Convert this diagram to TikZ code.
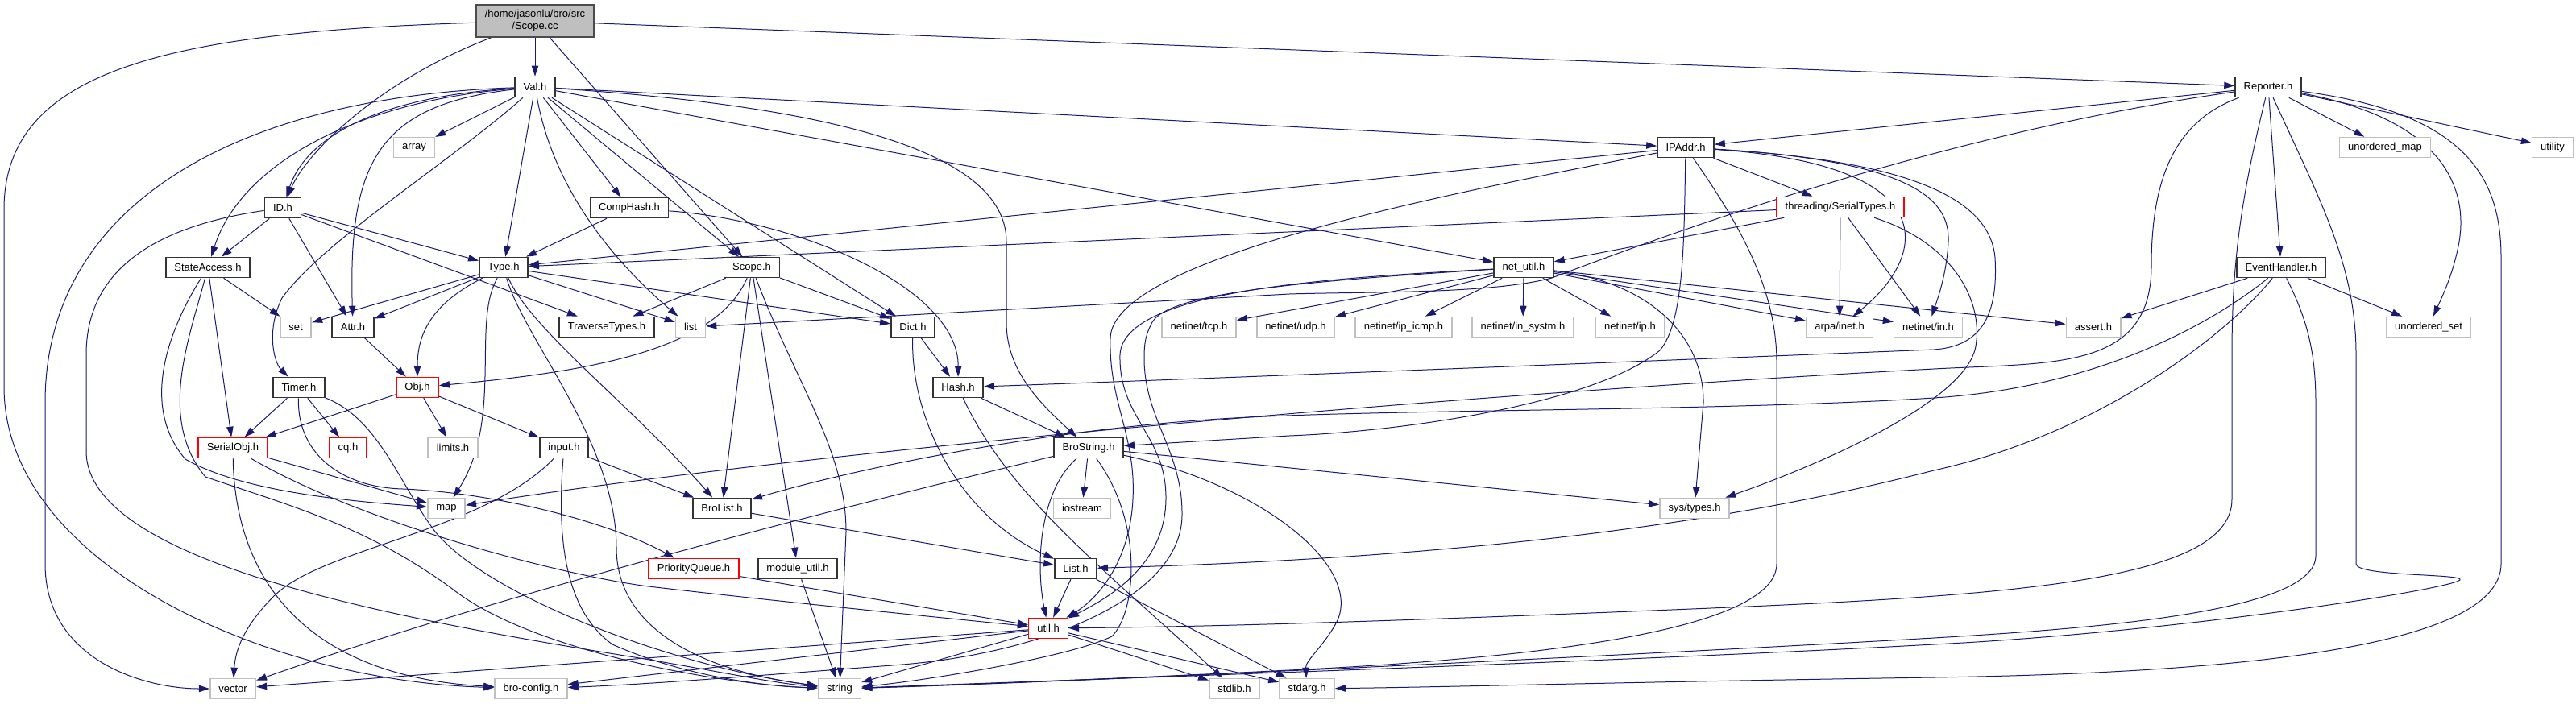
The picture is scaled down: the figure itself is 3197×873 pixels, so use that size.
\documentclass[tikz,border=0pt]{standalone}
\usepackage{fontspec}
\setmainfont{Liberation Sans}
\usetikzlibrary{arrows.meta}
\definecolor{edgeblue}{HTML}{191970}
\definecolor{sysgray}{HTML}{BFBFBF}
\pgfdeclarelayer{edges}
\pgfsetlayers{edges,main}
\begin{document}
\begin{tikzpicture}[x=0.5pt, y=-0.5pt, >={Triangle[length=6.5pt,width=4.2pt]},
    every node/.style={font=\fontsize{6.5}{7.5}\selectfont},
    hdr/.style={draw, rectangle, fill=white, line width=0.8pt, inner xsep=5.3pt, inner ysep=0pt, minimum height=12.5pt},
    doc/.style={hdr, draw=black!80},
    sys/.style={hdr, draw=sysgray},
    trunc/.style={hdr, draw=red},
    root/.style={hdr, fill=sysgray, draw=black!70, align=center, minimum height=20pt},
    dep/.style={->, color=edgeblue, line width=0.5pt}]
  \useasboundingbox (0,0) rectangle (3197,873);

  % ==================== nodes ====================
  % 1. root and first level
  \node[root] (scc) at (664,26) {/home/jasonlu/bro/src\\/Scope.cc};
  \node[doc] (valh) at (664,108) {Val.h};
  \node[doc] (reph) at (2815,108) {Reporter.h};

  % 2. second level
  \node[sys] (arr) at (514,183) {array};
  \node[doc] (ipa) at (2092,183) {IPAddr.h};
  \node[sys] (umap) at (2960,183) {unordered\_map};
  \node[sys] (utility) at (3168,183) {utility};

  % 3. third level
  \node[doc] (idh) at (351,258) {ID.h};
  \node[doc] (chash) at (781,258) {CompHash.h};
  \node[trunc] (sert) at (2284,257) {threading/SerialTypes.h};

  % 4. fourth level
  \node[doc] (sacc) at (258,332) {StateAccess.h};
  \node[doc] (typh) at (625,332) {Type.h};
  \node[doc] (scph) at (933,332) {Scope.h};
  \node[doc] (netu) at (1891,332) {net\_util.h};
  \node[doc] (evh) at (2831,332) {EventHandler.h};

  % 5. fifth level
  \node[sys] (seth) at (367,406) {set};
  \node[doc] (attr) at (438,406) {Attr.h};
  \node[doc] (trav) at (753,406) {TraverseTypes.h};
  \node[sys] (stdlist) at (857,406) {list};
  \node[doc] (dict) at (1133,406) {Dict.h};
  \node[sys] (tcp) at (1488,406) {netinet/tcp.h};
  \node[sys] (udp) at (1608,406) {netinet/udp.h};
  \node[sys] (icmp) at (1742,406) {netinet/ip\_icmp.h};
  \node[sys] (insys) at (1890,406) {netinet/in\_systm.h};
  \node[sys] (iph) at (2023,406) {netinet/ip.h};
  \node[sys] (ainet) at (2283,406) {arpa/inet.h};
  \node[sys] (nin) at (2393,406) {netinet/in.h};
  \node[sys] (asrt) at (2598,406) {assert.h};
  \node[sys] (uset) at (3014,406) {unordered\_set};

  % 6. sixth level
  \node[doc] (timer) at (371,481) {Timer.h};
  \node[trunc] (obj) at (518,481) {Obj.h};
  \node[doc] (hash) at (1189,481) {Hash.h};

  % 7. seventh level
  \node[trunc] (sobj) at (289,556) {SerialObj.h};
  \node[trunc] (cq) at (432,556) {cq.h};
  \node[sys] (lim) at (562,556) {limits.h};
  \node[doc] (inp) at (700,556) {input.h};
  \node[doc] (bstr) at (1351,556) {BroString.h};

  % 8. eighth level
  \node[sys] (maph) at (554,631) {map};
  \node[doc] (blist) at (896,631) {BroList.h};
  \node[sys] (iost) at (1343,631) {iostream};
  \node[sys] (systy) at (2103,631) {sys/types.h};

  % 9. ninth level
  \node[trunc] (pq) at (861,706) {PriorityQueue.h};
  \node[doc] (modu) at (990,706) {module\_util.h};
  \node[doc] (listh) at (1335,706) {List.h};
  \node[trunc] (utilh) at (1301,780) {util.h};

  % 10. bottom row
  \node[sys] (stdvec) at (289,855) {vector};
  \node[sys] (bcfg) at (659,855) {bro-config.h};
  \node[sys] (str) at (1042,855) {string};
  \node[sys] (stdl) at (1532,855) {stdlib.h};
  \node[sys] (stda) at (1622,855) {stdarg.h};

  % ==================== include edges ====================
  \begin{pgfonlayer}{edges}
    % 1. Scope.cc
    \draw[dep] (scc) -- (valh);
    \draw[dep] (scc) .. controls (470,100) and (380,190) .. (idh);
    \draw[dep] (scc) -- (scph);
    \draw[dep] (scc) -- (reph);
    \draw[dep] (scc) .. controls (200,40) and (5,90) .. (5,260) -- (5,480) .. controls (5,700) and (330,845) .. (bcfg);

    % 2. Val.h
    \draw[dep] (valh) -- (arr);
    \draw[dep] (valh) .. controls (470,120) and (380,170) .. (idh);
    \draw[dep] (valh) .. controls (450,125) and (300,200) .. (sacc);
    \draw[dep] (valh) .. controls (300,120) and (56,250) .. (56,500) -- (56,700) .. controls (56,820) and (180,855) .. (stdvec);
    \draw[dep] (valh) .. controls (470,130) and (432,200) .. (attr);
    \draw[dep] (valh) .. controls (560,200) and (400,300) .. (350,370) .. controls (330,410) and (340,450) .. (timer);
    \draw[dep] (valh) -- (typh);
    \draw[dep] (valh) -- (chash);
    \draw[dep] (valh) -- (scph);
    \draw[dep] (valh) -- (dict);
    \draw[dep] (valh) .. controls (690,250) and (780,340) .. (stdlist);
    \draw[dep] (valh) .. controls (1000,130) and (1249,180) .. (1249,300) -- (1249,400) .. controls (1249,460) and (1290,500) .. (bstr);
    \draw[dep] (valh) -- (netu);
    \draw[dep] (valh) -- (ipa);

    % 3. Reporter.h
    \draw[dep] (reph) -- (ipa);
    \draw[dep] (reph) .. controls (2450,160) and (2150,260) .. (1926,345) .. controls (1850,365) and (1700,362) .. (1600,365) -- (stdlist);
    \draw[dep] (reph) .. controls (2700,150) and (2670,220) .. (2670,330) .. controls (2670,460) and (2550,450) .. (2400,458) .. controls (1800,490) and (1000,560) .. (maph);
    \draw[dep] (reph) .. controls (2780,250) and (2770,330) .. (2770,440) -- (2770,620) .. controls (2770,730) and (2450,742) .. (2000,760) .. controls (1700,772) and (1500,778) .. (utilh);
    \draw[dep] (reph) -- (evh);
    \draw[dep] (reph) .. controls (2880,250) and (2924,330) .. (2924,440) -- (2924,700) .. controls (2924,716) and (3060,712) .. (3053,720) .. controls (3040,732) and (2700,785) .. (2400,800) .. controls (2000,822) and (1300,845) .. (str);
    \draw[dep] (reph) -- (umap);
    \draw[dep] (reph) -- (utility);
    \draw[dep] (reph) .. controls (3040,150) and (3062,240) .. (3052,300) .. controls (3045,340) and (3030,370) .. (uset);
    \draw[dep] (reph) .. controls (3060,140) and (3104,220) .. (3104,320) -- (3104,700) .. controls (3104,800) and (2800,835) .. (2400,841) .. controls (2000,847) and (1800,853) .. (stda);

    % 4. IPAddr.h and threading/SerialTypes.h
    \draw[dep] (ipa) -- (typh);
    \draw[dep] (ipa) .. controls (1800,240) and (1380,320) .. (1378,420) .. controls (1376,500) and (1410,540) .. (1406,620) .. controls (1402,700) and (1360,745) .. (utilh);
    \draw[dep] (ipa) .. controls (2090,300) and (2090,400) .. (2060,435) .. controls (1980,500) and (1750,535) .. (1600,541) -- (bstr);
    \draw[dep] (ipa) .. controls (2160,280) and (2205,360) .. (2205,450) -- (2205,700) .. controls (2205,790) and (1850,820) .. (1600,832) .. controls (1400,842) and (1200,850) .. (str);
    \draw[dep] (ipa) -- (sert);
    \draw[dep] (ipa) .. controls (2420,205) and (2390,320) .. (ainet);
    \draw[dep] (ipa) .. controls (2380,200) and (2420,250) .. (2418,300) .. controls (2416,340) and (2405,370) .. (nin);
    \draw[dep] (ipa) .. controls (2380,200) and (2470,250) .. (2476,320) .. controls (2480,390) and (2460,430) .. (2400,434) .. controls (2000,450) and (1500,470) .. (hash);
    \draw[dep] (sert) -- (typh);
    \draw[dep] (sert) -- (netu);
    \draw[dep] (sert) -- (ainet);
    \draw[dep] (sert) -- (nin);
    \draw[dep] (sert) .. controls (2420,300) and (2462,370) .. (2452,430) .. controls (2440,500) and (2250,580) .. (systy);

    % 5. ID.h, CompHash.h, StateAccess.h
    \draw[dep] (idh) -- (typh);
    \draw[dep] (idh) -- (attr);
    \draw[dep] (idh) -- (sacc);
    \draw[dep] (idh) -- (trav);
    \draw[dep] (idh) .. controls (200,280) and (107,330) .. (107,440) -- (107,560) .. controls (107,700) and (500,770) .. (800,818) .. controls (900,835) and (960,848) .. (str);
    \draw[dep] (chash) -- (typh);
    \draw[dep] (chash) .. controls (1000,275) and (1190,360) .. (hash);
    \draw[dep] (sacc) -- (seth);
    \draw[dep] (sacc) -- (sobj);
    \draw[dep] (sacc) .. controls (215,400) and (170,500) .. (230,570) .. controls (300,610) and (430,622) .. (maph);
    \draw[dep] (sacc) .. controls (235,420) and (195,520) .. (255,592) .. controls (350,625) and (450,650) .. (560,730) .. controls (660,810) and (900,850) .. (str);

    % 6. Type.h and Scope.h
    \draw[dep] (typh) -- (seth);
    \draw[dep] (typh) -- (attr);
    \draw[dep] (typh) .. controls (530,380) and (518,420) .. (obj);
    \draw[dep] (typh) .. controls (585,400) and (625,520) .. (maph);
    \draw[dep] (typh) .. controls (650,420) and (765,550) .. (765,680) .. controls (765,770) and (850,830) .. (str);
    \draw[dep] (typh) .. controls (660,410) and (780,500) .. (blist);
    \draw[dep] (typh) -- (dict);
    \draw[dep] (typh) -- (stdlist);
    \draw[dep] (scph) -- (trav);
    \draw[dep] (scph) -- (dict);
    \draw[dep] (scph) .. controls (890,430) and (750,460) .. (obj);
    \draw[dep] (scph) -- (blist);
    \draw[dep] (scph) -- (modu);
    \draw[dep] (scph) .. controls (990,480) and (1050,560) .. (1050,660) -- (str);

    % 7. net_util.h
    \draw[dep] (netu) -- (tcp);
    \draw[dep] (netu) -- (udp);
    \draw[dep] (netu) -- (icmp);
    \draw[dep] (netu) -- (insys);
    \draw[dep] (netu) -- (iph);
    \draw[dep] (netu) -- (ainet);
    \draw[dep] (netu) -- (nin);
    \draw[dep] (netu) -- (asrt);
    \draw[dep] (netu) .. controls (2050,350) and (2115,420) .. (2114,500) -- (systy);
    \draw[dep] (netu) .. controls (1650,345) and (1395,360) .. (1390,440) .. controls (1388,520) and (1448,540) .. (1447,620) .. controls (1446,700) and (1380,740) .. (utilh);
    \draw[dep] (netu) .. controls (1600,350) and (1450,365) .. (1430,400) .. controls (1422,415) and (1420,425) .. (1420,445) .. controls (1420,520) and (1468,560) .. (1467,640) .. controls (1466,740) and (1300,810) .. (1120,825) .. controls (950,838) and (800,850) .. (bcfg);

    % 8. EventHandler.h
    \draw[dep] (evh) -- (asrt);
    \draw[dep] (evh) -- (uset);
    \draw[dep] (evh) .. controls (2760,390) and (2620,480) .. (2400,494) .. controls (2150,510) and (1750,508) .. (1550,518) .. controls (1300,530) and (1050,585) .. (blist);
    \draw[dep] (evh) .. controls (2760,420) and (2600,540) .. (2400,584) .. controls (2200,635) and (1900,690) .. (listh);
    \draw[dep] (evh) .. controls (2860,390) and (2874,430) .. (2874,500) -- (2874,690) .. controls (2874,760) and (2600,780) .. (2400,792) .. controls (2000,815) and (1300,848) .. (str);

    % 9. middle headers
    \draw[dep] (attr) -- (obj);
    \draw[dep] (dict) -- (hash);
    \draw[dep] (dict) .. controls (1130,520) and (1190,640) .. (listh);
    \draw[dep] (timer) -- (sobj);
    \draw[dep] (timer) -- (cq);
    \draw[dep] (timer) .. controls (368,560) and (420,605) .. (500,607) .. controls (620,612) and (760,650) .. (pq);
    \draw[dep] (timer) .. controls (470,520) and (495,600) .. (540,660) .. controls (610,745) and (850,830) .. (str);
    \draw[dep] (obj) -- (sobj);
    \draw[dep] (obj) -- (lim);
    \draw[dep] (obj) -- (inp);
    \draw[dep] (hash) -- (bstr);
    \draw[dep] (hash) .. controls (1250,610) and (1350,690) .. (stdl);
    \draw[dep] (sobj) -- (maph);
    \draw[dep] (sobj) .. controls (450,650) and (700,715) .. (805,728) .. controls (950,745) and (1150,765) .. (utilh);
    \draw[dep] (sobj) .. controls (292,720) and (380,840) .. (bcfg);
    \draw[dep] (inp) .. controls (600,660) and (400,680) .. (340,740) .. controls (300,780) and (292,810) .. (stdvec);
    \draw[dep] (inp) .. controls (690,680) and (705,760) .. (760,800) .. controls (850,840) and (950,852) .. (str);
    \draw[dep] (inp) -- (blist);

    % 10. BroString.h
    \draw[dep] (bstr) .. controls (1000,640) and (600,745) .. (stdvec);
    \draw[dep] (bstr) -- (iost);
    \draw[dep] (bstr) .. controls (1290,610) and (1285,700) .. (utilh);
    \draw[dep] (bstr) .. controls (1420,650) and (1410,760) .. (1380,790) .. controls (1330,815) and (1150,845) .. (str);
    \draw[dep] (bstr) -- (systy);
    \draw[dep] (bstr) .. controls (1560,600) and (1690,700) .. (1660,770) .. controls (1645,800) and (1620,820) .. (stda);

    % 11. lower headers
    \draw[dep] (blist) -- (listh);
    \draw[dep] (pq) -- (utilh);
    \draw[dep] (modu) -- (str);
    \draw[dep] (listh) -- (utilh);
    \draw[dep] (listh) -- (stda);
    \draw[dep] (utilh) -- (stdvec);
    \draw[dep] (utilh) -- (bcfg);
    \draw[dep] (utilh) -- (str);
    \draw[dep] (utilh) -- (stdl);
    \draw[dep] (utilh) -- (stda);
  \end{pgfonlayer}
\end{tikzpicture}
\end{document}
